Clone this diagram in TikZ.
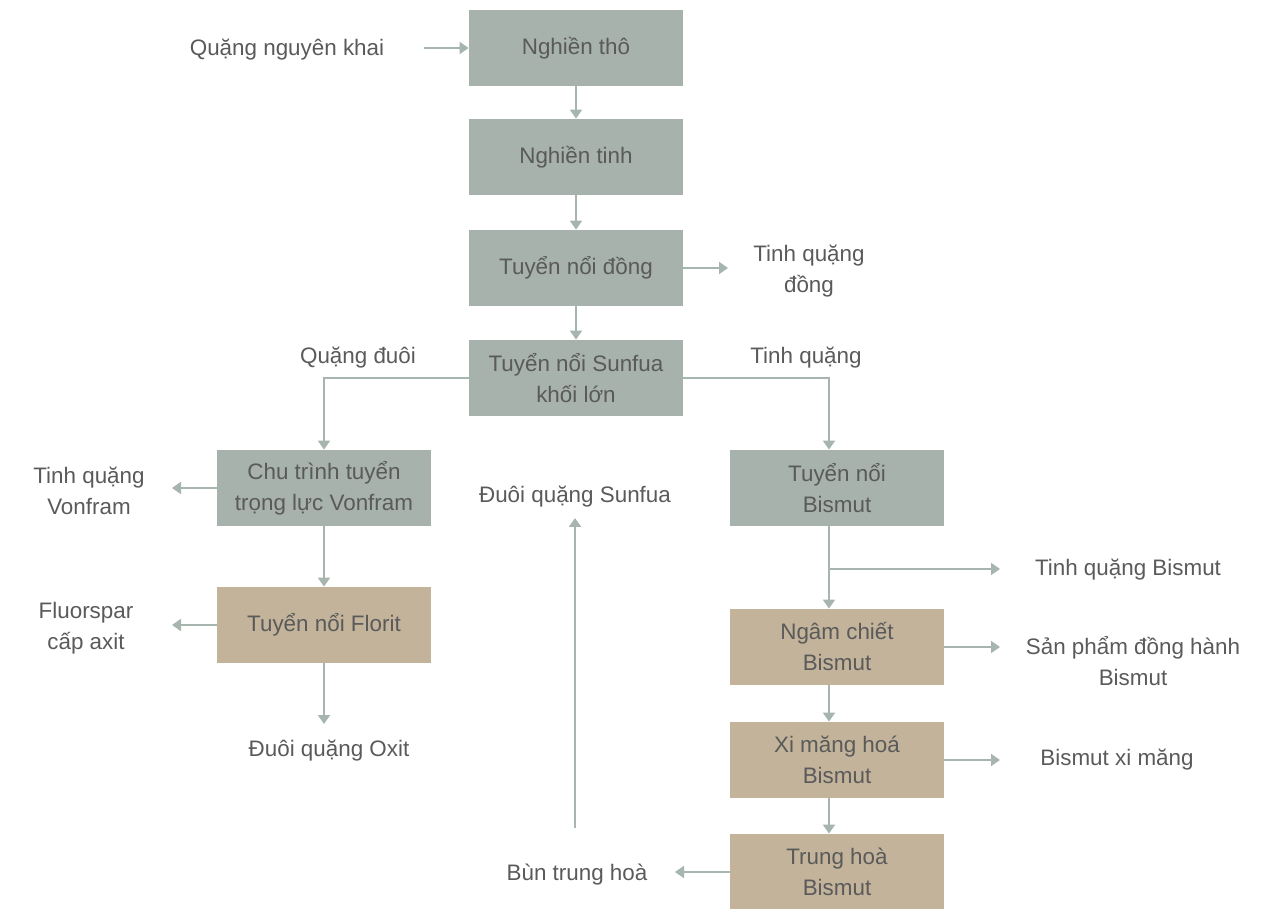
\documentclass[tikz,border=0pt]{standalone}
\usepackage{fontspec}
\setmainfont{Liberation Sans}
\usetikzlibrary{arrows.meta}
\definecolor{boxgreen}{HTML}{A6B2AB}
\definecolor{boxtan}{HTML}{C2B39A}
\definecolor{linegreen}{HTML}{A6B5AE}
\definecolor{textgray}{HTML}{5A5A5A}
\begin{document}
\begin{tikzpicture}[x=0.5pt,y=-0.5pt,
    font=\fontsize{11.2}{15.5}\selectfont, text=textgray,
    greenbox/.style={fill=boxgreen, minimum width=107pt, minimum height=38pt, align=center, inner sep=0pt},
    tanbox/.style={greenbox, fill=boxtan},
    outtext/.style={align=center, inner sep=0pt, yshift=-1.5pt},
    flow/.style={draw=linegreen, line width=1pt, -{Triangle[width=6pt,length=4.5pt]}}]
    \useasboundingbox (0,0) rectangle (1271,909);
    % process boxes
    \node[greenbox] (crush) at (576,48) {Nghiền thô};
    \node[greenbox] (grind) at (576,157) {Nghiền tinh};
    \node[greenbox] (cuflot) at (576,268) {Tuyển nổi đồng};
    \node[greenbox] (sulfflot) at (576,378) {Tuyển nổi Sunfua\\khối lớn};
    \node[greenbox] (gravity) at (324,488) {Chu trình tuyển\\trọng lực Vonfram};
    \node[tanbox] (fluflot) at (324,625) {Tuyển nổi Florit};
    \node[greenbox] (biflot) at (837,488) {Tuyển nổi\\Bismut};
    \node[tanbox] (leach) at (837,647) {Ngâm chiết\\Bismut};
    \node[tanbox] (cement) at (837,760) {Xi măng hoá\\Bismut};
    \node[tanbox] (neutral) at (837,872) {Trung hoà\\Bismut};
    % products
    \node[outtext] (rawore) at (287,47) {Quặng nguyên khai};
    \node[outtext] (cuconc) at (809,268) {Tinh quặng\\đồng};
    \node[outtext] (tails) at (358,355) {Quặng đuôi};
    \node[outtext] (sulfconc) at (806,355) {Tinh quặng};
    \node[outtext] (wconc) at (89,488) {Tinh quặng\\Vonfram};
    \node[outtext] (fluor) at (86,625) {Fluorspar\\cấp axit};
    \node[outtext] (oxtail) at (329,748) {Đuôi quặng Oxit};
    \node[outtext] (sulftail) at (575,494) {Đuôi quặng Sunfua};
    \node[outtext] (sludge) at (577,872) {Bùn trung hoà};
    \node[outtext] (biconc) at (1128,567) {Tinh quặng Bismut};
    \node[outtext] (byprod) at (1133,658) {Sản phẩm đồng hành\\Bismut};
    \node[outtext] (bicem) at (1117,757) {Bismut xi măng};
    % free arrow ends
    \coordinate (rawin) at (424,48);
    \coordinate (cuout) at (728,268);
    \coordinate (bicol) at (829,0);
    \coordinate (wout) at (172,488);
    \coordinate (fluout) at (172,625);
    \coordinate (oxout) at (324,724);
    \coordinate (sludgeup) at (575,828);
    \coordinate (sulfout) at (575,518);
    \coordinate (branch) at (829,569);
    \coordinate (biconcout) at (1000,569);
    \coordinate (byout) at (1000,647);
    \coordinate (cemout) at (1000,760);
    \coordinate (sludgeout) at (675,872);
    % main line
    \draw[flow] (rawin) -- (crush.west);
    \draw[flow] (crush) -- (grind);
    \draw[flow] (grind) -- (cuflot);
    \draw[flow] (cuflot) -- (sulfflot);
    \draw[flow] (cuflot.east) -- (cuout);
    \draw[flow] (sulfflot.west) -| (gravity.north);
    \draw[flow] (sulfflot.east) -| (biflot.north -| bicol);
    % tungsten side
    \draw[flow] (gravity.west) -- (wout);
    \draw[flow] (gravity) -- (fluflot);
    \draw[flow] (fluflot.west) -- (fluout);
    \draw[flow] (fluflot.south) -- (oxout);
    \draw[flow] (sludgeup) -- (sulfout);
    % bismuth side
    \draw[flow] (biflot.south -| bicol) -- (leach.north -| bicol);
    \draw[flow] (branch) -- (biconcout);
    \draw[flow] (leach.east) -- (byout);
    \draw[flow] (leach.south -| bicol) -- (cement.north -| bicol);
    \draw[flow] (cement.east) -- (cemout);
    \draw[flow] (cement.south -| bicol) -- (neutral.north -| bicol);
    \draw[flow] (neutral.west) -- (sludgeout);
\end{tikzpicture}
\end{document}
